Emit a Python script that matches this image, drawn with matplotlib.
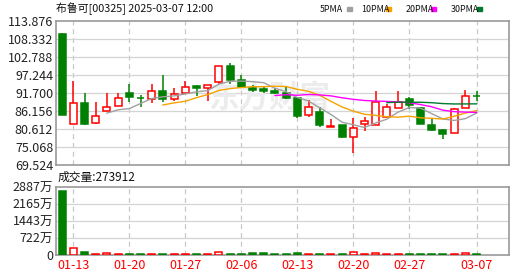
import numpy as np
import pandas as pd
import matplotlib
matplotlib.use("Agg")
import matplotlib.pyplot as plt

plt.rcParams['font.family'] = ['Noto Sans CJK SC', 'DejaVu Sans']

# daily K-line data, 布鲁可 [00325]
dates = ['01-10', '01-13', '01-14', '01-15', '01-16', '01-17', '01-20', '01-21',
         '01-22', '01-23', '01-24', '01-27', '01-28', '02-03', '02-04', '02-05',
         '02-06', '02-07', '02-10', '02-11', '02-12', '02-13', '02-14', '02-17',
         '02-18', '02-19', '02-20', '02-21', '02-24', '02-25', '02-26', '02-27',
         '02-28', '03-03', '03-04', '03-05', '03-06', '03-07']
opens = [109.87, 82.07, 88.53, 82.37, 86.06, 87.60, 91.61, 90.20, 89.94, 92.32,
         89.94, 91.61, 93.86, 93.33, 95.00, 100.02, 95.70, 93.24, 92.93, 92.41,
         91.61, 90.25, 84.83, 85.85, 81.35, 81.75, 78.06, 82.06, 81.75, 84.22,
         86.99, 89.76, 86.99, 81.84, 80.30, 79.29, 86.99, 90.75]
closes = [84.93, 88.53, 82.25, 84.52, 87.30, 90.07, 90.38, 90.05, 92.23, 89.94,
          91.39, 93.45, 93.33, 94.07, 100.02, 95.70, 93.64, 92.63, 92.32, 91.61,
          90.25, 84.71, 87.30, 81.84, 81.40, 78.24, 80.83, 82.98, 88.93, 87.30,
          89.02, 87.91, 82.06, 80.40, 79.17, 86.68, 90.68, 90.65]
highs = [110.10, 95.40, 91.80, 89.02, 91.70, 91.61, 94.47, 91.08, 94.47, 97.24,
         93.24, 95.40, 94.26, 94.07, 100.02, 101.04, 97.24, 94.07, 93.86, 93.33,
         93.64, 90.40, 89.55, 87.30, 83.69, 81.75, 83.91, 84.22, 92.32, 88.22,
         92.32, 90.56, 87.30, 83.69, 80.71, 87.08, 92.63, 92.32]
lows = [84.80, 82.00, 81.90, 82.06, 86.06, 87.60, 89.02, 87.48, 88.72, 89.02,
        89.24, 91.61, 90.78, 89.24, 94.47, 94.47, 93.64, 92.01, 91.80, 91.39,
        89.85, 84.09, 84.22, 81.32, 81.30, 77.93, 73.31, 80.09, 81.75, 84.22,
        86.99, 86.68, 82.06, 80.00, 77.63, 79.29, 86.99, 89.24]
volumes = [2705, 283, 127, 42, 85, 42, 30, 30, 42, 42, 30, 42, 30, 42, 127, 42,
           42, 85, 85, 30, 30, 85, 42, 30, 30, 30, 127, 30, 85, 30, 30, 30, 30,
           30, 30, 30, 85, 27.4]  # 万

price_ticks = [69.524, 75.068, 80.612, 86.156, 91.700, 97.244, 102.788, 108.332, 113.876]
vol_ticks = [0, 722, 1443, 2165, 2887]
vol_tick_labels = ['0', '722万', '1443万', '2165万', '2887万']
date_ticks = ['01-13', '01-20', '01-27', '02-06', '02-13', '02-20', '02-27', '03-07']
ma_periods = [5, 10, 20, 30]
ma_colors = ['#a0a0a0', '#f5a300', '#ff00ff', '#007a2e']

RED = '#ff0000'
GREEN = '#008000'
W, H = 530, 276

x = np.arange(len(dates))
o = np.array(opens); c = np.array(closes)
hi = np.array(highs); lo = np.array(lows)
up = c >= o
body_lo = np.minimum(o, c)
body_hi = np.maximum(o, c)

fig = plt.figure(figsize=(W / 100, H / 100), dpi=100)
ax = fig.add_axes([56 / W, 1 - 165 / H, (509 - 56) / W, (165 - 21) / H])
axv = fig.add_axes([56 / W, 1 - 255 / H, (509 - 56) / W, (255 - 187) / H])

xlim = (-0.55, 39.9)
tick_pos = [dates.index(d) for d in date_ticks]


def frame(a):
    a.set_xlim(*xlim)
    for s in a.spines.values():
        s.set_color('#999999')
        s.set_linewidth(1.2)
    a.tick_params(length=0, labelsize=9, colors='#222222', pad=2)
    for t in tick_pos:
        a.axvline(t, color='#c8c8c8', lw=0.9, ls=(0, (4, 3)), zorder=0)


# price panel
frame(ax)
ax.set_ylim(price_ticks[0], price_ticks[-1])
ax.set_yticks(price_ticks)
ax.set_yticklabels([f"{v:.3f}" for v in price_ticks])
ax.set_xticks([])
for v in price_ticks[1:-1]:
    ax.axhline(v, color='#d4d4d4', lw=0.9, zorder=0)

ax.text(0.47, 0.47, '东方财富', transform=ax.transAxes, fontsize=22,
        color='#ececec', ha='center', va='center', fontweight='bold',
        style='italic', zorder=0.5)

bw = 0.62
for i in x:
    col = RED if up[i] else GREEN
    ax.vlines(i, body_hi[i], hi[i], color=col, lw=1.1, zorder=2)
    ax.vlines(i, lo[i], body_lo[i], color=col, lw=1.1, zorder=2)
    h = max(body_hi[i] - body_lo[i], 0.02)
    if up[i]:
        ax.bar(i, h, bottom=body_lo[i], width=bw, facecolor='white',
               edgecolor=RED, linewidth=1.1, zorder=3)
    else:
        ax.bar(i, h, bottom=body_lo[i], width=bw, facecolor=GREEN,
               edgecolor=GREEN, linewidth=1.1, zorder=3)

close_s = pd.Series(closes)
for n, mc in zip(ma_periods, ma_colors):
    ax.plot(x, close_s.rolling(n).mean(), color=mc, lw=1.0, zorder=4)

# volume panel
frame(axv)
axv.set_ylim(0, vol_ticks[-1])
axv.set_yticks(vol_ticks)
axv.set_yticklabels(vol_tick_labels)
for v in vol_ticks[1:-1]:
    axv.axhline(v, color='#d4d4d4', lw=0.9, zorder=0)
axv.set_xticks(tick_pos)
axv.set_xticklabels(date_ticks, color=RED, fontsize=9)
axv.tick_params(axis='x', colors=RED, pad=3)
for i in x:
    if up[i]:
        axv.bar(i, volumes[i], width=bw, facecolor='white', edgecolor=RED,
                linewidth=1.1, zorder=3)
    else:
        axv.bar(i, volumes[i], width=bw, facecolor=GREEN, edgecolor=GREEN,
                linewidth=1.1, zorder=3)

# header texts
fig.text(56 / W, 1 - 9 / H, '布鲁可[00325] 2025-03-07 12:00', fontsize=7.8,
         va='center', ha='left', color='#111111')
leg_x = [320, 361, 406, 451]
sq_x = [347, 386, 431, 477]
for lx, sx, n, mc in zip(leg_x, sq_x, ma_periods, ma_colors):
    fig.text(lx / W, 1 - 9 / H, f'{n}PMA', fontsize=6.4, va='center',
             ha='left', color='#111111')
    fig.patches.append(plt.Rectangle((sx / W, 1 - 10.5 / H), 5 / W, 3.5 / H,
                                     transform=fig.transFigure, color=mc))
fig.text(58 / W, 1 - 177 / H, '成交量:273912', fontsize=8.5, va='center',
         ha='left', color='#111111')

fig.savefig('out.png', dpi=100)
